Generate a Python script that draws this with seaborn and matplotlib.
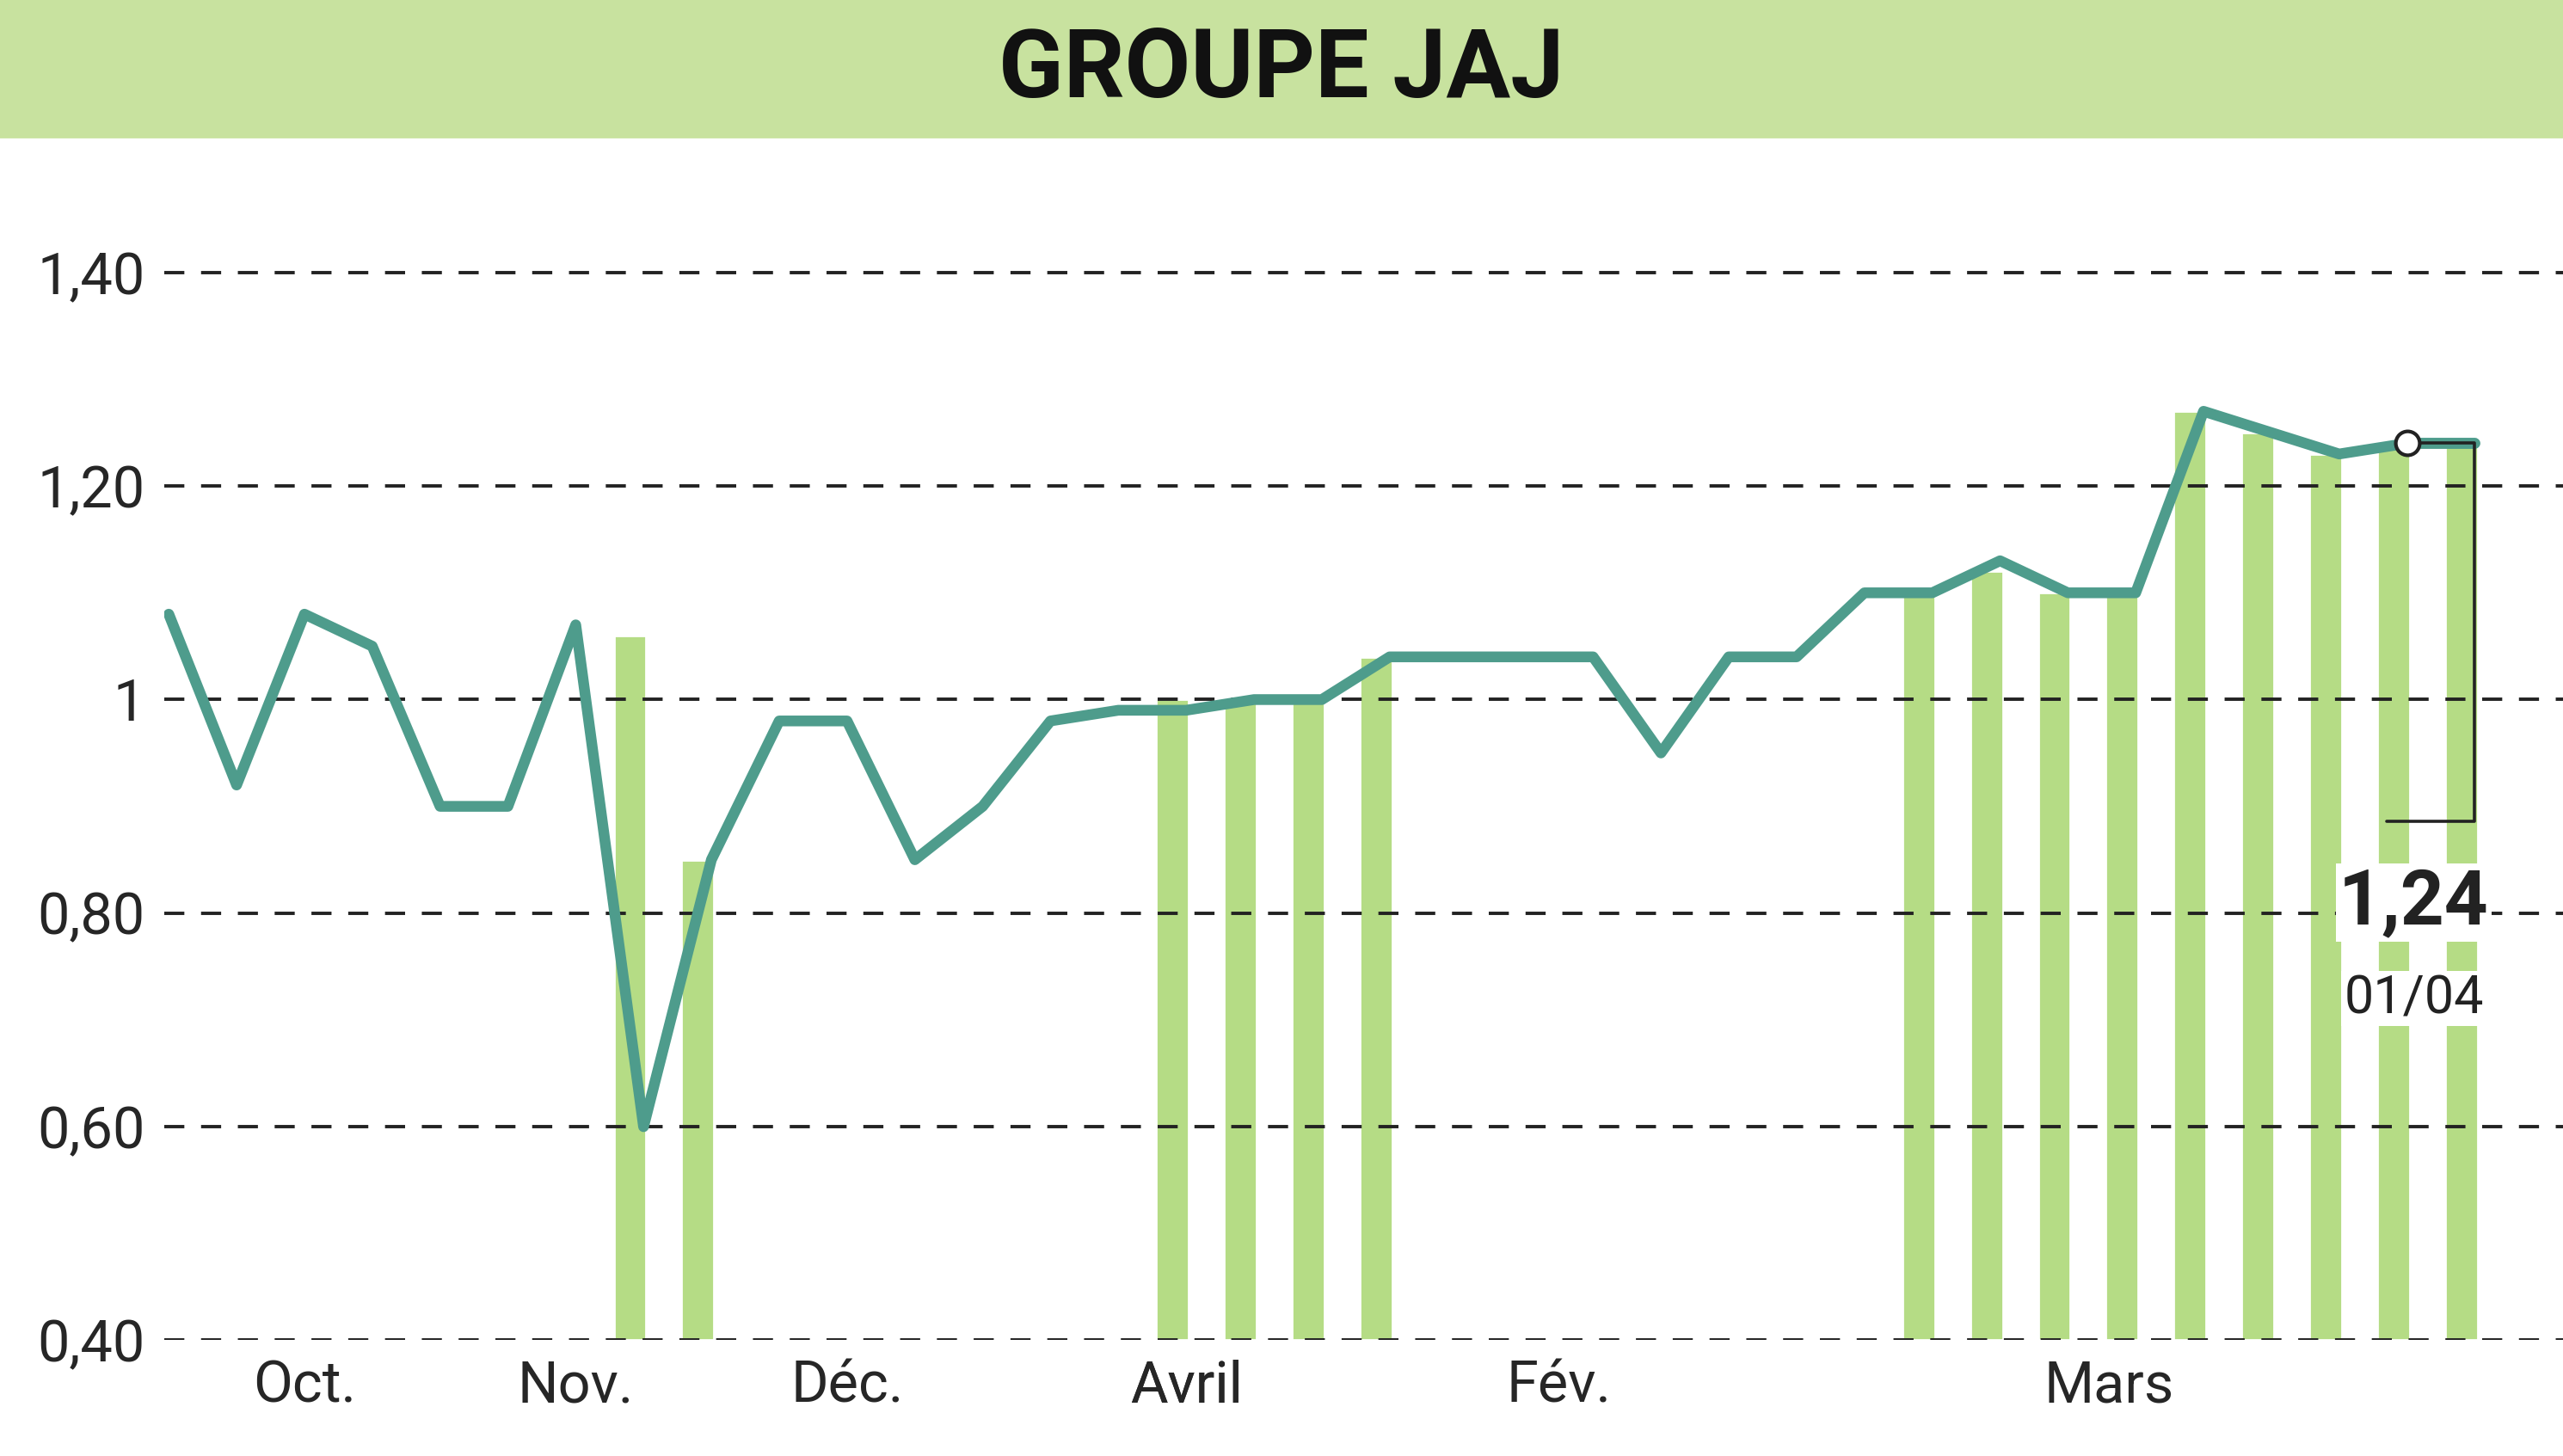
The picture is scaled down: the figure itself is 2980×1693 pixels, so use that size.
import matplotlib
matplotlib.use("Agg")
import matplotlib.pyplot as plt
import seaborn as sns
import numpy as np

sns.set_theme(style="white")
plt.rcParams['font.family'] = ['Roboto', 'DejaVu Sans']

prices = [1.08,0.92,1.08,1.05,0.90,0.90,1.07,0.60,0.85,0.98,0.98,0.85,0.90,0.98,0.99,0.99,1.00,1.00,1.04,1.04,
          1.04,1.04,0.95,1.04,1.04,1.10,1.10,1.13,1.10,1.10,1.27,1.25,1.23,1.24,1.24]
bar_idx = [7,8,15,16,17,18,26,27,28,29,30,31,32,33,34]
bar_top = [1.06,0.85,1.00,1.00,1.00,1.04,1.10,1.12,1.10,1.10,1.27,1.25,1.23,1.24,1.24]
month_labels = ["Oct.","Nov.","Déc.","Janv.","Avril","Fév.","Mars"]
month_pos = [2,6,10,15,15,20.5,28.6]
yticks = [0.40,0.60,0.80,1.00,1.20,1.40]
ylabels = ["0,40","0,60","0,80","1","1,20","1,40"]

fig = plt.figure(figsize=(14.9,8.465), dpi=200)
fig.patches.append(plt.Rectangle((0,0.906),1,0.094,transform=fig.transFigure,color="#c8e29f",zorder=0))
fig.text(0.5,0.951,"GROUPE JAJ",ha="center",va="center",fontsize=40,fontweight="bold",color="#111111")

ax = fig.add_axes([0.064,0.0795,0.936,0.8265])
x = np.arange(len(prices))
ax.bar(np.array(bar_idx)-0.2, np.array(bar_top)-0.40, bottom=0.40, width=0.48, color="#b5dc85", zorder=1)
sns.lineplot(x=x, y=prices, ax=ax, color="#4e9c8c", linewidth=4.5, zorder=3)
ax.set_xlim(-0.07,35.3)
ax.set_ylim(0.40,1.527)
for t in yticks:
    ax.axhline(t, color="#222222", linestyle=(0,(6,5)), linewidth=1.4, zorder=2)
ax.set_yticks(yticks)
ax.set_yticklabels(ylabels, fontsize=24)
ax.set_xticks(month_pos)
ax.set_xticklabels(month_labels, fontsize=24)
ax.tick_params(length=0, pad=8)
for s in ax.spines.values():
    s.set_visible(False)
ax.plot([33,34],[1.24,1.24],color="#4e9c8c",lw=4.5,zorder=3)
ax.plot([33],[1.24],marker="o",ms=10,mfc="white",mec="#222222",mew=1.5,zorder=5)
ax.plot([33.1,34,34,32.7],[1.24,1.24,0.886,0.886],color="#222222",lw=1.3,zorder=4)
ax.text(33.1,0.81,"1,24",ha="center",va="center",fontsize=32,fontweight="bold",color="#222222",
        bbox=dict(facecolor="white",edgecolor="none",pad=1),zorder=6)
ax.text(33.1,0.72,"01/04",ha="center",va="center",fontsize=22,color="#222222",
        bbox=dict(facecolor="white",edgecolor="none",pad=1),zorder=6)
fig.savefig("out.png", dpi=200)
